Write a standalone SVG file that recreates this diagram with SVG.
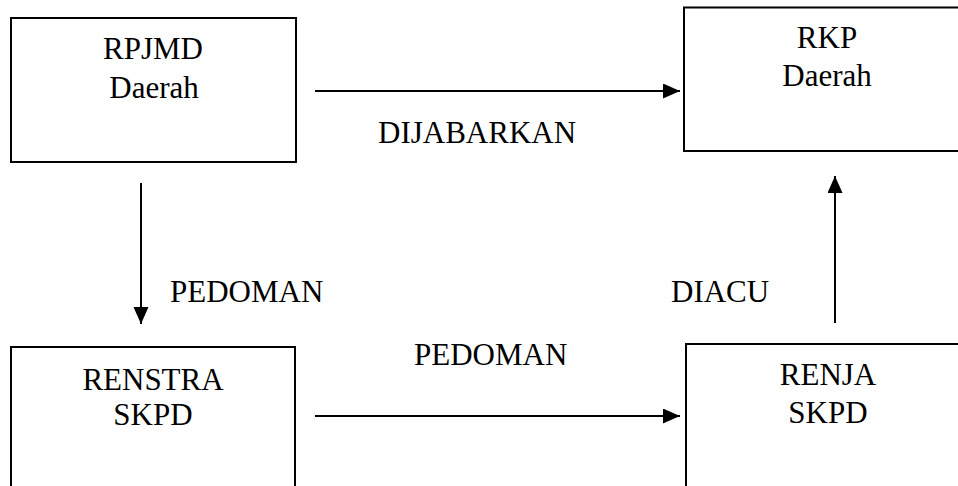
<svg xmlns="http://www.w3.org/2000/svg" width="958" height="486" viewBox="0 0 958 486">
<style>
.box{fill:#fff;stroke:#000;stroke-width:2}
.t{font-family:'Liberation Serif','Times New Roman',Times,Tinos,'DejaVu Serif',serif;font-size:31px;fill:#000}
.c{text-anchor:middle}
.ln{stroke:#000;stroke-width:2;fill:none}
</style>
<defs>
<marker id="ah" markerUnits="userSpaceOnUse" markerWidth="18" markerHeight="16" refX="17" refY="7.5" orient="auto">
<polygon points="0,0 17,7.5 0,15" fill="#000"/>
</marker>
</defs>
<rect width="958" height="486" fill="#fff"/>
<g id="rpjmd">
<rect class="box" x="11" y="18" width="285" height="144"/>
<text class="t c" x="153" y="59" font-family="Liberation Serif, serif">RPJMD</text>
<text class="t c" x="154" y="98" font-family="Liberation Serif, serif">Daerah</text>
</g>
<g id="rkp">
<rect class="box" x="684" y="7.5" width="290" height="143.5"/>
<text class="t c" x="827" y="48">RKP</text>
<text class="t c" x="827" y="86">Daerah</text>
</g>
<g id="renstra">
<rect class="box" x="11" y="347" width="284" height="160"/>
<text class="t c" x="153" y="390">RENSTRA</text>
<text class="t c" x="153" y="425">SKPD</text>
</g>
<g id="renja">
<rect class="box" x="686" y="344" width="290" height="160"/>
<text class="t c" x="828" y="385">RENJA</text>
<text class="t c" x="828" y="423">SKPD</text>
</g>
<g id="connectors">
<line class="ln" x1="315" y1="91" x2="680" y2="91" marker-end="url(#ah)"/>
<line class="ln" x1="141" y1="183" x2="141" y2="324" marker-end="url(#ah)"/>
<line class="ln" x1="315" y1="416" x2="680" y2="416" marker-end="url(#ah)"/>
<line class="ln" x1="835" y1="323" x2="835" y2="176" marker-end="url(#ah)"/>
<text class="t" x="378" y="143">DIJABARKAN</text>
<text class="t" x="170" y="302">PEDOMAN</text>
<text class="t" x="414" y="365">PEDOMAN</text>
<text class="t" x="671" y="302">DIACU</text>
</g>
</svg>
